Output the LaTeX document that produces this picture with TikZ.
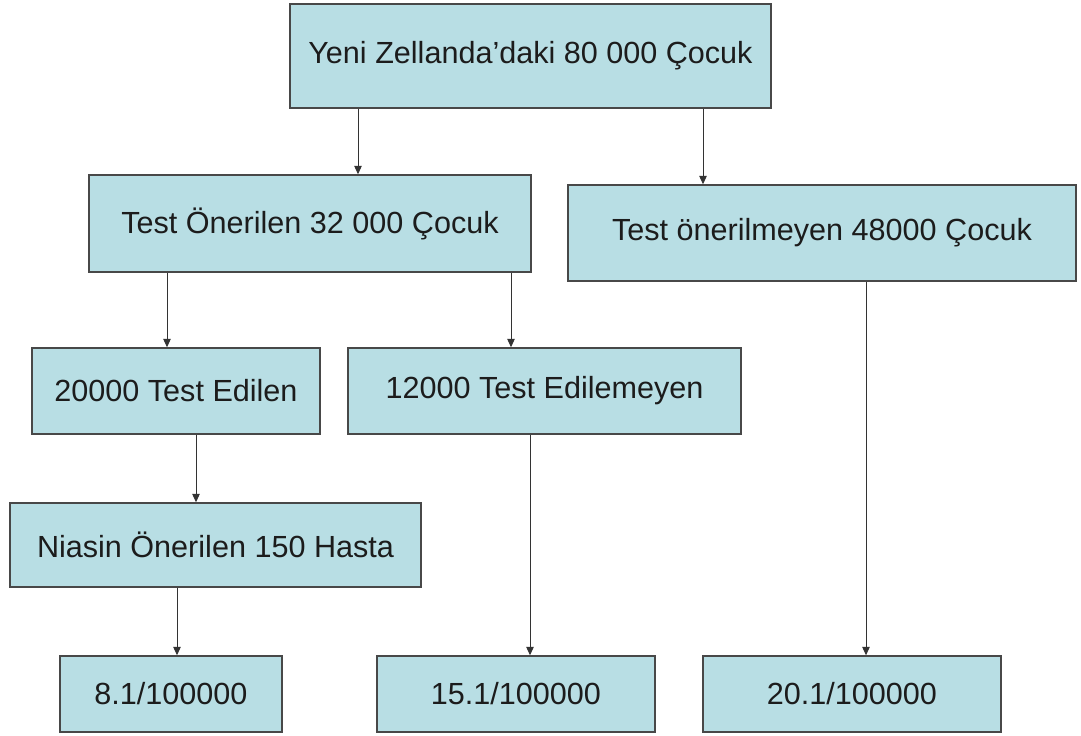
\documentclass[tikz,border=0pt]{standalone}
\usepackage{fontspec}
\setmainfont{Liberation Sans}
\usetikzlibrary{arrows.meta,positioning}
\definecolor{boxfill}{RGB}{184,222,228}
\definecolor{boxline}{RGB}{72,72,72}
\definecolor{txtdark}{RGB}{28,28,28}
\tikzset{
  cbox/.style={draw=boxline, fill=boxfill, line width=0.8pt, text=txtdark,
               inner sep=0pt, font=\fontsize{17.4}{20}\selectfont},
  darr/.style={-{Triangle[length=1.7mm, width=1.5mm]}, draw=black!80, line width=0.55pt},
}

\begin{document}
\begin{tikzpicture}[x=0.2mm, y=-0.2mm]
  \useasboundingbox (0,0) rectangle (1081,735);
  \node[cbox, minimum width=96.2mm, minimum height=20.8mm] (kids) at (530.5,56) {Yeni Zellanda’daki 80 000 Çocuk};
  \node[cbox, minimum width=88.4mm, minimum height=19.4mm] (offered) at (310,223.5) {Test Önerilen 32 000 Çocuk};
  \node[cbox, minimum width=101.6mm, minimum height=19.2mm] (notoffered) at (822,233) {Test önerilmeyen 48000 Çocuk};
  \node[cbox, minimum width=57.6mm, minimum height=17.2mm] (tested) at (176,391) {20000 Test Edilen};
  \node[cbox, minimum width=78.6mm, minimum height=17.2mm] (untested) at (544.5,391) {12000 Test Edilemeyen};
  \node[cbox, minimum width=82.2mm, minimum height=16.8mm] (niacin) at (215.5,545) {Niasin Önerilen 150 Hasta};
  \node[cbox, minimum width=44.4mm, minimum height=15.2mm] (rateA) at (171,694) {8.1/100000};
  \node[cbox, minimum width=55.6mm, minimum height=15.2mm] (rateB) at (516,694) {15.1/100000};
  \node[cbox, minimum width=59.6mm, minimum height=15.2mm] (rateC) at (852,694) {20.1/100000};
  \coordinate (xa) at (358,0);
  \coordinate (xb) at (703,0);
  \coordinate (xc) at (167,0);
  \coordinate (xd) at (511,0);
  \coordinate (xe) at (196,0);
  \coordinate (xf) at (177,0);
  \coordinate (xg) at (530,0);
  \coordinate (xh) at (866,0);
  \draw[darr] (kids.south -| xa) -- (offered.north -| xa);
  \draw[darr] (kids.south -| xb) -- (notoffered.north -| xb);
  \draw[darr] (offered.south -| xc) -- (tested.north -| xc);
  \draw[darr] (offered.south -| xd) -- (untested.north -| xd);
  \draw[darr] (tested.south -| xe) -- (niacin.north -| xe);
  \draw[darr] (niacin.south -| xf) -- (rateA.north -| xf);
  \draw[darr] (untested.south -| xg) -- (rateB.north -| xg);
  \draw[darr] (notoffered.south -| xh) -- (rateC.north -| xh);
\end{tikzpicture}
\end{document}
